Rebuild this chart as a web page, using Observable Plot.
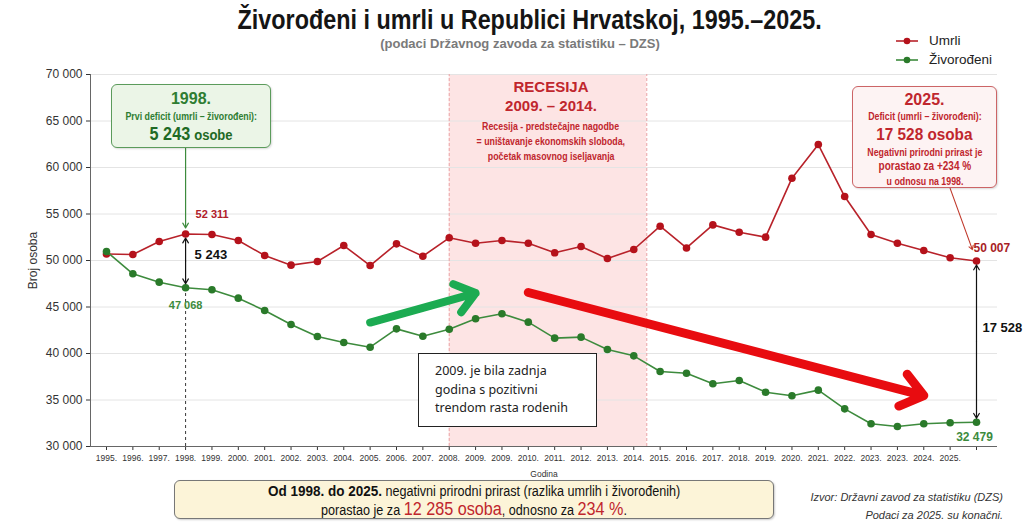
<!DOCTYPE html>
<html>
<head>
<meta charset="utf-8">
<script src="https://cdn.jsdelivr.net/npm/d3@7"></script>
<script src="https://cdn.jsdelivr.net/npm/@observablehq/plot@0.6"></script>
<style>
  html, body { margin: 0; padding: 0; background: #fff; }
  #wrap { position: relative; width: 1024px; height: 529px; overflow: hidden; background: #fff; font-family: "Liberation Sans", Arial, sans-serif; }
  #chart { position: absolute; left: 0; top: 0; }
  .abs { position: absolute; }
  .ln { display: flex; justify-content: center; white-space: nowrap; }
  .sx { display: inline-block; transform: scaleX(0.8); }
  .sx9 { display: inline-block; transform: scaleX(0.9); }
  #title { top: 5px; left: 0; width: 1060px; font-weight: bold; font-size: 27px; color: #151515; }
  #title span { transform: scaleX(0.865); }
  #subtitle { top: 36px; left: 0; width: 1040px; text-align: center; font-weight: bold; font-size: 13px; color: #7a7a7a; }
  .legend { left: 895px; font-size: 13.5px; color: #222; display: flex; align-items: center; }
  .legend svg { margin-right: 10px; }
  .box { box-sizing: border-box; border-radius: 6px; }
  #gbox { left: 111px; top: 84px; width: 160px; height: 64px; background: #ebf5e7; border: 1.3px solid #5b9b5b; color: #2e7d32; box-shadow: 1px 1px 2px rgba(0,0,0,0.15); }
  #rbox { left: 852px; top: 86px; width: 145px; height: 102px; background: #fdf3f3; border: 1.3px solid #cc6466; color: #c0262d; box-shadow: 1px 1px 2px rgba(0,0,0,0.15); }
  #rec { left: 451px; top: 77px; width: 200px; color: #c0262d; }
  #note { left: 418px; top: 353px; width: 179px; height: 74px; box-sizing: border-box; border: 1.6px solid #222; background: #fff; padding: 8px 0 0 16px; font-family: "Noto Sans", "Open Sans", sans-serif; font-size: 12.5px; line-height: 18.5px; color: #222; }
  #bottom { left: 174px; top: 480px; width: 600px; height: 39px; background: #fcf4d8; border: 1.3px solid #777; box-shadow: 1px 1px 2px rgba(0,0,0,0.2); color: #111; }
  #source { right: 21px; top: 488px; text-align: right; font-style: italic; font-size: 11px; line-height: 18px; color: #333; }
</style>
</head>
<body>
<div id="wrap">
  <div id="chart"></div>
  <div id="title" class="abs ln"><span class="sx">Živorođeni i umrli u Republici Hrvatskoj, 1995.–2025.</span></div>
  <div id="subtitle" class="abs">(podaci Državnog zavoda za statistiku – DZS)</div>
  <div class="abs legend" style="top:33px"><svg width="24" height="10"><line x1="1" y1="5" x2="23" y2="5" stroke="#b8222a" stroke-width="1.6"/><circle cx="12" cy="5" r="3.3" fill="#b5121b"/></svg>Umrli</div>
  <div class="abs legend" style="top:52px"><svg width="24" height="10"><line x1="1" y1="5" x2="23" y2="5" stroke="#3d8b3d" stroke-width="1.6"/><circle cx="12" cy="5" r="3.3" fill="#2a7a2a"/></svg>Živorođeni</div>

  <div id="gbox" class="abs box">
    <div class="ln" style="font-weight:bold;font-size:16px;margin-top:5px;line-height:18px;">1998.</div>
    <div class="ln" style="font-weight:bold;font-size:11px;line-height:16px;"><span class="sx">Prvi deficit (umrli – živorođeni):</span></div>
    <div class="ln" style="font-weight:bold;line-height:20px;color:#1f6a25;"><span class="sx9"><span style="font-size:18px;">5 243</span> <span style="font-size:14.5px;">osobe</span></span></div>
  </div>

  <div id="rec" class="abs">
    <div class="ln" style="font-weight:bold;font-size:15px;line-height:19px;">RECESIJA</div>
    <div class="ln" style="font-weight:bold;font-size:15px;line-height:19px;">2009. – 2014.</div>
    <div style="font-weight:bold;font-size:11px;line-height:15px;margin-top:4px;">
      <div class="ln"><span class="sx">Recesija - predstečajne nagodbe</span></div>
      <div class="ln"><span class="sx">= uništavanje ekonomskih sloboda,</span></div>
      <div class="ln"><span class="sx">početak masovnog iseljavanja</span></div>
    </div>
  </div>

  <div id="rbox" class="abs box">
    <div class="ln" style="font-weight:bold;font-size:16px;margin-top:3px;line-height:19px;">2025.</div>
    <div class="ln" style="font-weight:bold;font-size:11px;line-height:15px;"><span class="sx">Deficit (umrli – živorođeni):</span></div>
    <div class="ln" style="font-weight:bold;font-size:17px;line-height:21px;"><span class="sx9">17 528 osoba</span></div>
    <div class="ln" style="font-weight:bold;font-size:11px;line-height:14px;"><span class="sx">Negativni prirodni prirast je</span></div>
    <div class="ln" style="font-weight:bold;font-size:12.5px;line-height:15px;"><span class="sx">porastao za +234 %</span></div>
    <div class="ln" style="font-weight:bold;font-size:11px;line-height:14px;"><span class="sx">u odnosu na 1998.</span></div>
  </div>

  <div id="note" class="abs">2009. je bila zadnja<br>godina s pozitivni<br>trendom rasta rodenih</div>

  <div id="bottom" class="abs box">
    <div class="ln" style="font-size:14px;line-height:18px;margin-top:1px;"><span class="sx9"><b style="font-size:15px;">Od 1998. do 2025.</b> negativni prirodni prirast (razlika umrlih i živorođenih)</span></div>
    <div class="ln" style="font-size:14px;line-height:18px;"><span class="sx9">porastao je za <span style="font-size:18px;color:#c0262d;">12 285 osoba</span>, odnosno za <span style="font-size:18px;color:#c0262d;">234 %</span>.</span></div>
  </div>

  <div id="source" class="abs">Izvor: Državni zavod za statistiku (DZS)<br>Podaci za 2025. su konačni.</div>
</div>

<script>
// ---- data ----
const yearLabels = ["1995.","1996.","1997.","1998.","1999.","2000.","2001.","2002.","2003.","2004.","2005.","2006.","2007.","2008.",
  "2009.","2009.","2010.","2011.","2012.","2013.","2014.","2015.","2016.","2017.","2018.","2019.","2020.","2021.","2022.",
  "2023.","2023.","2024.","2025.",""];
const umrli = [50700,50640,52040,52850,52800,52150,50540,49500,49890,51610,49460,51790,50460,52440,
  51860,52150,51860,50830,51500,50220,51180,53690,51350,53830,53040,52510,58850,62470,56880,
  52800,51860,51080,50290,49950];
const zivorodeni = [50970,48570,47670,47068,46850,45950,44620,43120,41830,41180,40680,42650,41860,42610,
  43730,44270,43370,41650,41760,40430,39750,38060,37880,36740,37100,35840,35450,36060,34050,
  32440,32150,32440,32550,32600];
const yTicks = [30000,35000,40000,45000,50000,55000,60000,65000,70000];
const umrli1998Label = 52311, zivo1998Label = 47068, deficit1998 = 5243;
const umrli2025Label = 50007, zivo2025Label = 32479, deficit2025 = 17528;
const idx1998 = 3, idxLast = yearLabels.length - 1, recStart = 13, recEnd = 20;

const fmt = v => d3.format(",")(v).replace(/,/g, " ");
const data = yearLabels.map((l, i) => ({i, umrli: umrli[i], zivo: zivorodeni[i]}));
const RED = "#b8222a", GREEN = "#3d8b3d";

const mid98 = (umrli[idx1998] + zivorodeni[idx1998]) / 2;
const midL = (umrli[idxLast] + zivorodeni[idxLast]) / 2;

const chart = Plot.plot({
  width: 1024,
  height: 480,
  marginTop: 74,
  marginBottom: 34,
  marginLeft: 90,
  marginRight: 27,
  style: {fontFamily: "Liberation Sans, Arial, sans-serif", background: "transparent", color: "#333"},
  x: {type: "point", domain: data.map(d => d.i), range: [106, 976], padding: 0, round: false},
  y: {domain: [30000, 70000]},
  marks: [
    // recession shading
    Plot.rect([{a: recStart, b: recEnd}], {x1: "a", x2: "b", y1: 30000, y2: 70000, fill: "#fde4e4", insetRight: -13}),
    Plot.gridY(yTicks, {stroke: "#e4e4e4", strokeOpacity: 1}),
    Plot.ruleX([recStart], {y1: 30000, y2: 70000, stroke: "#eaa2a4", strokeDasharray: "3,2"}),
    Plot.ruleX([recEnd], {y1: 30000, y2: 70000, stroke: "#eaa2a4", strokeDasharray: "3,2", dx: 13}),
    Plot.axisY(yTicks, {tickFormat: fmt, tickSize: 4, tickPadding: 4, fontSize: 12, label: "Broj osoba", labelAnchor: "center", labelOffset: 62, labelArrow: "none"}),
    Plot.axisX({tickFormat: i => yearLabels[i], tickSize: 4, tickPadding: 4, fontSize: 8.5, label: "Godina", labelAnchor: "center", labelOffset: 30}),
    Plot.ruleY([30000], {stroke: "#666"}),
    Plot.ruleX([0], {y1: 30000, y2: 70000, stroke: "#666", dx: -16}),
    // 1998 dashed guide
    Plot.ruleX([idx1998], {y1: 30000, y2: zivorodeni[idx1998], stroke: "#222", strokeWidth: 0.9, strokeDasharray: "3,3"}),
    // big trend arrows
    Plot.arrow([{x1: 10, y1: 43330, x2: 14, y2: 46500}], {x1: "x1", y1: "y1", x2: "x2", y2: "y2", stroke: "#1cab52", strokeWidth: 8, headLength: 4.5, headAngle: 75}),
    Plot.arrow([{x1: 16, y1: 46560, x2: 31, y2: 35480}], {x1: "x1", y1: "y1", x2: "x2", y2: "y2", stroke: "#e80c10", strokeWidth: 9, headLength: 4.5, headAngle: 75}),
    // series
    Plot.line(data, {x: "i", y: "umrli", stroke: RED, strokeWidth: 1.6}),
    Plot.dot(data, {x: "i", y: "umrli", r: 3.8, fill: "#b5121b"}),
    Plot.line(data, {x: "i", y: "zivo", stroke: GREEN, strokeWidth: 1.6}),
    Plot.dot(data, {x: "i", y: "zivo", r: 3.8, fill: "#2a7a2a"}),
    // box pointers
    Plot.arrow([{x1: idx1998, y1: 62050, x2: idx1998, y2: umrli[idx1998]}], {x1: "x1", y1: "y1", x2: "x2", y2: "y2", stroke: GREEN, strokeWidth: 1.2, headLength: 7, insetEnd: 6}),
    Plot.arrow([{x1: idxLast - 1, y1: 57750, x2: idxLast, y2: umrli[idxLast]}], {x1: "x1", y1: "y1", x2: "x2", y2: "y2", stroke: "#c0392b", strokeWidth: 1.1, headLength: 6, insetEnd: 12}),
    // deficit double arrows
    Plot.arrow([{x: idx1998, a: mid98, b: umrli[idx1998]}, {x: idx1998, a: mid98, b: zivorodeni[idx1998]},
                {x: idxLast, a: midL, b: umrli[idxLast]}, {x: idxLast, a: midL, b: zivorodeni[idxLast]}],
      {x1: "x", x2: "x", y1: "a", y2: "b", stroke: "#111", strokeWidth: 1.2, headLength: 7, insetEnd: 4}),
    // value labels
    Plot.text([umrli1998Label], {x: () => idx1998, y: () => umrli[idx1998], text: d => fmt(d), dx: 10, dy: -20, textAnchor: "start", fill: "#b0202a", fontWeight: "bold", fontSize: 11}),
    Plot.text([zivo1998Label], {x: () => idx1998, y: () => zivorodeni[idx1998], text: d => fmt(d), dy: 18, fill: "#3d8b3d", fontWeight: "bold", fontSize: 11}),
    Plot.text([deficit1998], {x: () => idx1998, y: () => mid98, text: d => fmt(d), dx: 9, dy: -6, textAnchor: "start", fill: "#111", fontWeight: "bold", fontSize: 13}),
    Plot.text([umrli2025Label], {x: () => idxLast, y: () => umrli[idxLast], text: d => fmt(d), dx: -3, dy: -13, textAnchor: "start", fill: "#a81e26", fontWeight: "bold", fontSize: 12}),
    Plot.text([zivo2025Label], {x: () => idxLast, y: () => zivorodeni[idxLast], text: d => fmt(d), dx: -2, dy: 15, fill: "#3d8b3d", fontWeight: "bold", fontSize: 12}),
    Plot.text([deficit2025], {x: () => idxLast, y: () => midL, text: d => fmt(d), dx: 6, dy: -14, textAnchor: "start", fill: "#111", fontWeight: "bold", fontSize: 13})
  ]
});
document.getElementById("chart").appendChild(chart);
</script>
</body>
</html>
